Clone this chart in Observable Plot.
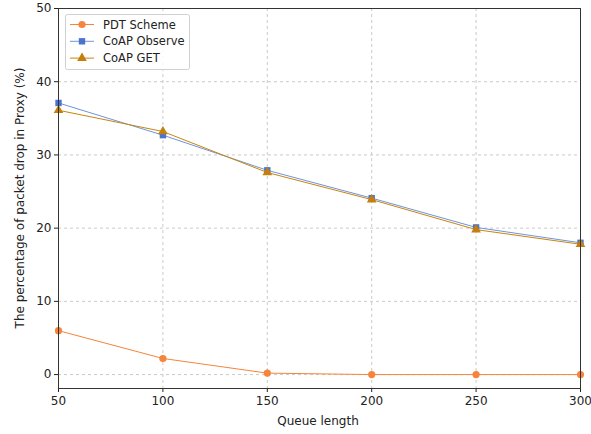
<!DOCTYPE html>
<html><head><meta charset="utf-8">
<script src="https://cdn.jsdelivr.net/npm/d3@7"></script>
<script src="https://cdn.jsdelivr.net/npm/@observablehq/plot@0.6"></script>
<style>
body{margin:0;background:#fff;font-family:"DejaVu Sans",sans-serif;}
#chart{position:relative;width:591px;height:434px;}
</style></head>
<body><div id="chart"></div>
<script>
const queueLengths = [50, 100, 150, 200, 250, 300];
const pdtScheme = [6.0, 2.2, 0.2, 0.0, 0.0, 0.0];
const coapObserve = [37.1, 32.7, 27.9, 24.1, 20.1, 18.0];
const coapGet = [36.1, 33.2, 27.6, 23.9, 19.8, 17.8];
const seriesNames = ["PDT Scheme", "CoAP Observe", "CoAP GET"];
const xTicks = [50, 100, 150, 200, 250, 300];
const yTicks = [0, 10, 20, 30, 40, 50];

const colors = {"PDT Scheme": "#f5843c", "CoAP Observe": "#4a74d0", "CoAP GET": "#c47f0c"};
const lineColors = {"PDT Scheme": "#f5843c", "CoAP Observe": "#6f94dc", "CoAP GET": "#c8860f"};
const symbols = {"PDT Scheme": "circle", "CoAP Observe": "square", "CoAP GET": "triangle"};

const seriesValues = [pdtScheme, coapObserve, coapGet];
const data = [];
seriesNames.forEach((s, i) => queueLengths.forEach((q, j) => data.push({series: s, q, v: seriesValues[i][j]})));

const marks = [
  Plot.gridX(xTicks, {stroke: "#bdbdbd", strokeOpacity: 1, strokeDasharray: "3,3", strokeWidth: 0.8}),
  Plot.gridY(yTicks, {stroke: "#bdbdbd", strokeOpacity: 1, strokeDasharray: "3,3", strokeWidth: 0.8}),
];
seriesNames.forEach(s => {
  const d = data.filter(r => r.series === s);
  marks.push(Plot.line(d, {x: "q", y: "v", stroke: lineColors[s], strokeWidth: 1}));
  marks.push(Plot.dot(d, {x: "q", y: "v", fill: colors[s], symbol: symbols[s], r: 3.6, stroke: "none"}));
});
marks.push(Plot.axisX(xTicks, {tickSize: 4, fontSize: 12, tickPadding: 4, label: null, color: "#222"}));
marks.push(Plot.axisY(yTicks, {tickSize: 4, fontSize: 12, tickPadding: 3, label: null, color: "#222"}));
marks.push(Plot.frame({stroke: "#333", strokeWidth: 1}));

const plot = Plot.plot({
  width: 591, height: 434,
  marginLeft: 58, marginRight: 11, marginTop: 8, marginBottom: 46,
  style: {fontFamily: "DejaVu Sans", fontSize: "12px", background: "#fff", color: "#222"},
  x: {domain: [50, 300]},
  y: {domain: [-1.9, 50]},
  marks
});

const svg = d3.select(plot);
// axis labels
svg.append("text").attr("x", 318).attr("y", 425).attr("text-anchor", "middle")
  .attr("font-size", 12).attr("fill", "#222").text("Queue length");
svg.append("text").attr("transform", "translate(24,198) rotate(-90)").attr("text-anchor", "middle")
  .attr("font-size", 12).attr("fill", "#222").text("The percentage of packet drop in Proxy (%)");

// legend
const lg = svg.append("g").attr("text-anchor", "start");
lg.append("rect").attr("x", 65.5).attr("y", 14.5).attr("width", 124).attr("height", 55).attr("rx", 2)
  .attr("fill", "#fff").attr("fill-opacity", 0.85).attr("stroke", "#d0d0d0");
const symGen = {circle: d3.symbolCircle, square: d3.symbolSquare, triangle: d3.symbolTriangle};
seriesNames.forEach((s, i) => {
  const y = 24.5 + i * 16.8;
  lg.append("line").attr("x1", 70).attr("x2", 94).attr("y1", y).attr("y2", y)
    .attr("stroke", lineColors[s]).attr("stroke-width", 1);
  lg.append("path").attr("transform", `translate(82,${y})`)
    .attr("d", d3.symbol(symGen[symbols[s]], Math.PI * 3.6 * 3.6)()).attr("fill", colors[s]);
  lg.append("text").attr("x", 103).attr("y", y).attr("dy", "0.35em").attr("font-size", 11.5)
    .attr("text-anchor", "start").attr("fill", "#222").text(s);
});

document.getElementById("chart").appendChild(plot);
</script></body></html>
